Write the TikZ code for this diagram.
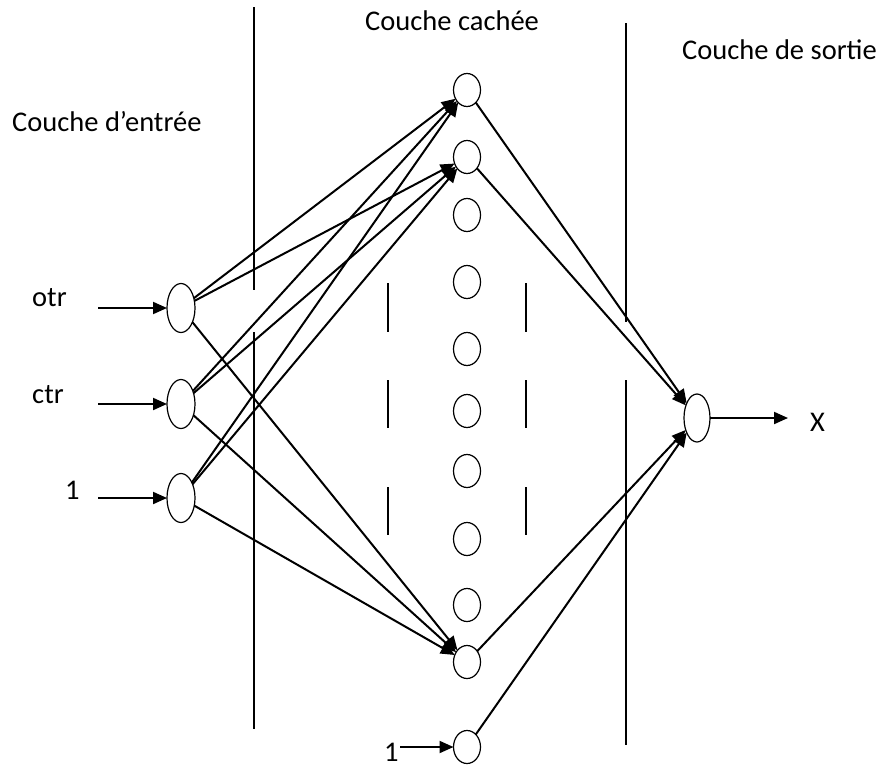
\documentclass[tikz,border=0pt]{standalone}
\usepackage{fontspec}
\setmainfont{Carlito}
\usetikzlibrary{arrows.meta,shapes.geometric}
\begin{document}
\begin{tikzpicture}[x=1pt,y=-1pt,
  neuron/.style={draw, ellipse, line width=1.2pt, inner sep=0pt, outer sep=0pt, minimum width=27pt, minimum height=33pt},
  bigneuron/.style={neuron, minimum width=28pt, minimum height=49pt},
  conn/.style={line width=2pt, -{Triangle[length=14pt,width=12pt]}},
  sepline/.style={line width=1.4pt},
  lbl/.style={font=\fontsize{28.5}{34}\selectfont, inner sep=0pt, anchor=base west}
]
\useasboundingbox (0,0) rectangle (881,769);

% layer separators and dashes
\draw[sepline] (254,7) -- (254,290);
\draw[sepline] (254,332) -- (254,729);
\draw[sepline] (626,23) -- (626,322);
\draw[sepline] (626,380) -- (626,745);
\foreach \xx in {388,526}{
  \draw[sepline] (\xx,283) -- (\xx,332);
  \draw[sepline] (\xx,380) -- (\xx,428);
  \draw[sepline] (\xx,487) -- (\xx,535);
}

% neurons
\node[bigneuron] (i1) at (181,308) {};
\node[bigneuron] (i2) at (181,404) {};
\node[bigneuron] (i3) at (181,498) {};
\node[neuron] (h1) at (467,90) {};
\node[neuron] (h2) at (467,157) {};
\node[neuron] (h3) at (467,215) {};
\node[neuron] (h4) at (467,282) {};
\node[neuron] (h5) at (467,349) {};
\node[neuron] (h6) at (467,411) {};
\node[neuron] (h7) at (467,471) {};
\node[neuron] (h8) at (467,539) {};
\node[neuron] (h9) at (467,605) {};
\node[neuron] (h10) at (467,662) {};
\node[neuron] (h11) at (467,747) {};
\node[bigneuron, minimum width=26pt, minimum height=48pt] (o) at (697,418) {};

% labels
\node[lbl] (t1) at (12,131) {Couche d’entrée};
\node[lbl] (t2) at (365,30) {Couche cachée};
\node[lbl] (t3) at (682,59) {Couche de sortie};
\node[lbl] (lo) at (32,306) {otr};
\node[lbl] (lc) at (32,403) {ctr};
\node[lbl] (l1) at (65,499) {1};
\node[lbl] (l4) at (384,761) {1};
\node[lbl] (lx) at (810,431) {X};

% input arrows
\coordinate (a1) at (98,308);
\coordinate (a2) at (98,404);
\coordinate (a3) at (98,498);
\coordinate (a4) at (400,747);
\coordinate (xend) at (788,418);
\draw[conn] (a1) -- (i1);
\draw[conn] (a2) -- (i2);
\draw[conn] (a3) -- (i3);
\draw[conn] (a4) -- (h11);

% input -> hidden
\foreach \ii in {i1,i2,i3}{
  \foreach \hh in {h1,h2,h10}{
    \draw[conn] (\ii) -- (\hh);
  }
}
% hidden -> output
\foreach \hh in {h1,h2,h10,h11}{
  \draw[conn] (\hh) -- (o);
}
\draw[conn] (o) -- (xend);
\end{tikzpicture}
\end{document}
